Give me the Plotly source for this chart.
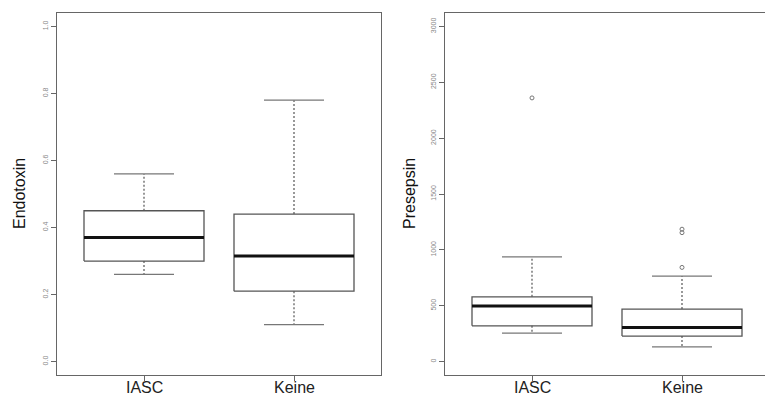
import plotly.graph_objects as go

categories = ["IASC", "Keine"]

endo_lower = [0.26, 0.11]
endo_q1 = [0.30, 0.21]
endo_median = [0.37, 0.315]
endo_q3 = [0.45, 0.44]
endo_upper = [0.56, 0.78]
endo_outliers = [[], []]

pres_lower = [255, 131]
pres_q1 = [320, 228]
pres_median = [498, 305]
pres_q3 = [580, 470]
pres_upper = [938, 765]
pres_outliers = [[2360], [843, 1154, 1185]]

endo_ticks = [0.0, 0.2, 0.4, 0.6, 0.8, 1.0]
pres_ticks = [0, 500, 1000, 1500, 2000, 2500, 3000]

BOX_COL = "#555555"
MED_COL = "#111111"
FRAME_COL = "#666666"
FONT = "Liberation Sans, Arial, Helvetica, sans-serif"

fig = go.Figure()


def add_boxes(lower, q1, med, q3, upper, outliers, xa, ya):
    for i, _ in enumerate(categories):
        c = i + 1
        hw, cw = 0.4, 0.2
        fig.add_trace(go.Scatter(
            x=[c - hw, c + hw, c + hw, c - hw, c - hw],
            y=[q1[i], q1[i], q3[i], q3[i], q1[i]],
            mode="lines", line=dict(color=BOX_COL, width=1.3),
            xaxis=xa, yaxis=ya, showlegend=False, hoverinfo="skip"))
        fig.add_trace(go.Scatter(
            x=[c, c, None, c, c],
            y=[q3[i], upper[i], None, q1[i], lower[i]],
            mode="lines", line=dict(color=BOX_COL, width=1.2, dash="2px,2px"),
            xaxis=xa, yaxis=ya, showlegend=False, hoverinfo="skip"))
        fig.add_trace(go.Scatter(
            x=[c - cw, c + cw, None, c - cw, c + cw],
            y=[upper[i], upper[i], None, lower[i], lower[i]],
            mode="lines", line=dict(color="#777777", width=1.3),
            xaxis=xa, yaxis=ya, showlegend=False, hoverinfo="skip"))
        fig.add_trace(go.Scatter(
            x=[c - hw, c + hw], y=[med[i], med[i]],
            mode="lines", line=dict(color=MED_COL, width=3),
            xaxis=xa, yaxis=ya, showlegend=False, hoverinfo="skip"))
        if outliers[i]:
            fig.add_trace(go.Scatter(
                x=[c] * len(outliers[i]), y=outliers[i], mode="markers",
                marker=dict(symbol="circle-open", size=4, color="#777777",
                            line=dict(width=1)),
                xaxis=xa, yaxis=ya, showlegend=False, hoverinfo="skip"))


add_boxes(endo_lower, endo_q1, endo_median, endo_q3, endo_upper, endo_outliers, "x", "y")
add_boxes(pres_lower, pres_q1, pres_median, pres_q3, pres_upper, pres_outliers, "x2", "y2")

W, H = 765, 394
ydom = [1 - 375 / H, 1 - 13 / H]

common_x = dict(
    tickvals=[1, 2], ticks="outside", ticklen=5, showticklabels=False,
    tickcolor=FRAME_COL, showline=True, linecolor=FRAME_COL, linewidth=1.2,
    showgrid=False, zeroline=False, automargin=False,
)
common_y = dict(
    ticks="outside", ticklen=5, tickcolor=FRAME_COL, tickangle=-90,
    showline=True, linecolor=FRAME_COL, linewidth=1.2,
    showgrid=False, zeroline=False, automargin=False,
    tickfont=dict(size=7, color="#888888", family=FONT),
)

annotations = [
    dict(text="Endotoxin", x=19 / W, y=(ydom[0] + ydom[1]) / 2, xref="paper", yref="paper",
         textangle=-90, showarrow=False, xanchor="center", yanchor="middle",
         font=dict(size=16, color="#111111", family=FONT)),
    dict(text="Presepsin", x=409 / W, y=(ydom[0] + ydom[1]) / 2, xref="paper", yref="paper",
         textangle=-90, showarrow=False, xanchor="center", yanchor="middle",
         font=dict(size=16, color="#111111", family=FONT)),
]
for xr in ("x", "x2"):
    for i, cat in enumerate(categories):
        annotations.append(dict(
            text=cat, x=i + 1, xref=xr, y=1 - 377 / H, yref="paper",
            showarrow=False, xanchor="center", yanchor="top",
            font=dict(size=16, color="#222222", family=FONT)))

fig.update_layout(
    width=W, height=H, margin=dict(l=0, r=0, t=0, b=0, autoexpand=False),
    paper_bgcolor="white", plot_bgcolor="white",
    font=dict(family=FONT),
    xaxis=dict(domain=[57 / W, 381 / W], range=[0.42, 2.58], anchor="y",
               mirror=True, **common_x),
    yaxis=dict(domain=ydom, range=[-0.04, 1.04], anchor="x", mirror=True,
               tickvals=endo_ticks, ticktext=[f"{v:.1f}" for v in endo_ticks], **common_y),
    xaxis2=dict(domain=[445 / W, 1.0], range=[0.42, 0.42 + 320 / 150], anchor="y2",
                mirror=True, **common_x),
    yaxis2=dict(domain=ydom, range=[-120, 3120], anchor="x2", mirror=False,
                tickvals=pres_ticks, ticktext=[str(v) for v in pres_ticks], **common_y),
    annotations=annotations,
)

fig.write_html("out.html")
